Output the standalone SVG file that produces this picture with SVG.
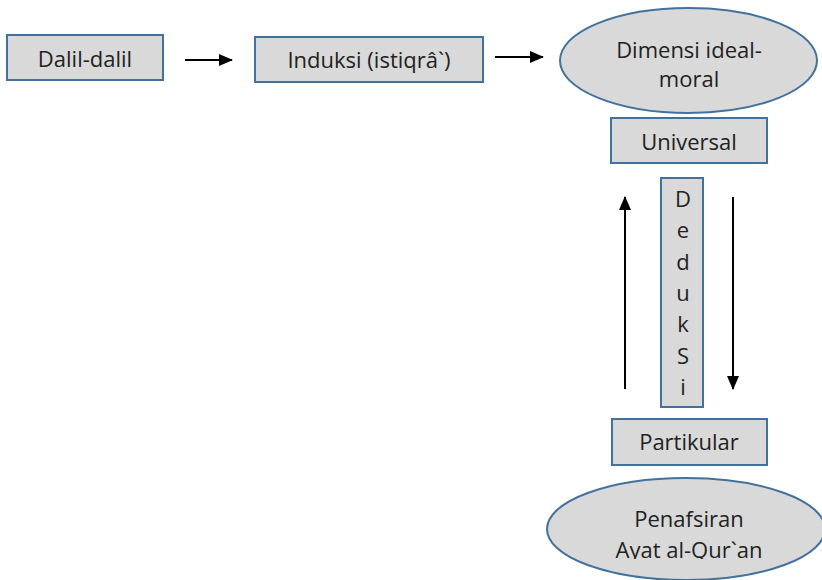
<svg xmlns="http://www.w3.org/2000/svg" width="822" height="580" viewBox="0 0 822 580">
  <style>
    .box { fill: #d9d9d9; stroke: #41719c; stroke-width: 2; }
    .lbl { font-family: "Open Sans", "Liberation Sans", sans-serif; font-size: 22px; fill: #222; text-anchor: middle; }
    .arr { stroke: #000; stroke-width: 2; fill: none; marker-end: url(#head); }
  </style>
  <defs>
    <marker id="head" markerUnits="userSpaceOnUse" markerWidth="14" markerHeight="12" refX="13" refY="6" orient="auto">
      <path d="M0,0 L14,6 L0,12 Z" fill="#000"/>
    </marker>
    <clipPath id="bottomClip">
      <rect x="0" y="0" width="822" height="559"/>
    </clipPath>
  </defs>

  <g id="connectors">
    <line class="arr" x1="185" y1="60" x2="232" y2="60"/>
    <line class="arr" x1="495" y1="57" x2="543" y2="57"/>
    <line class="arr" x1="625" y1="389" x2="625" y2="197"/>
    <line class="arr" x1="733" y1="197" x2="733" y2="389"/>
  </g>

  <g id="dalil">
    <rect class="box" x="7" y="35" width="156" height="45"/>
    <text class="lbl" x="85" y="67">Dalil-dalil</text>
  </g>

  <g id="induksi">
    <rect class="box" x="255" y="37" width="228" height="45"/>
    <text class="lbl" x="369" y="68">Induksi (istiqrâ`)</text>
  </g>

  <g id="dimensi">
    <ellipse class="box" cx="688.5" cy="60.5" rx="128.5" ry="52.5"/>
    <text class="lbl" x="689" y="58">Dimensi ideal-</text>
    <text class="lbl" x="689" y="87">moral</text>
  </g>

  <g id="universal">
    <rect class="box" x="611" y="118" width="156" height="45"/>
    <text class="lbl" x="689" y="150">Universal</text>
  </g>

  <g id="deduksi">
    <rect class="box" x="661" y="178" width="42" height="229"/>
    <text class="lbl" x="683" y="207">D</text>
    <text class="lbl" x="683" y="238">e</text>
    <text class="lbl" x="683" y="270">d</text>
    <text class="lbl" x="683" y="301">u</text>
    <text class="lbl" x="683" y="332">k</text>
    <text class="lbl" x="683" y="364">S</text>
    <text class="lbl" x="683" y="395">i</text>
  </g>

  <g id="partikular">
    <rect class="box" x="612" y="419" width="155" height="46"/>
    <text class="lbl" x="689" y="450">Partikular</text>
  </g>

  <g id="penafsiran">
    <ellipse class="box" cx="686" cy="529" rx="139" ry="51"/>
    <text class="lbl" x="689" y="527">Penafsiran</text>
    <text class="lbl" x="689" y="558" clip-path="url(#bottomClip)">Ayat al-Qur`an</text>
  </g>
</svg>
